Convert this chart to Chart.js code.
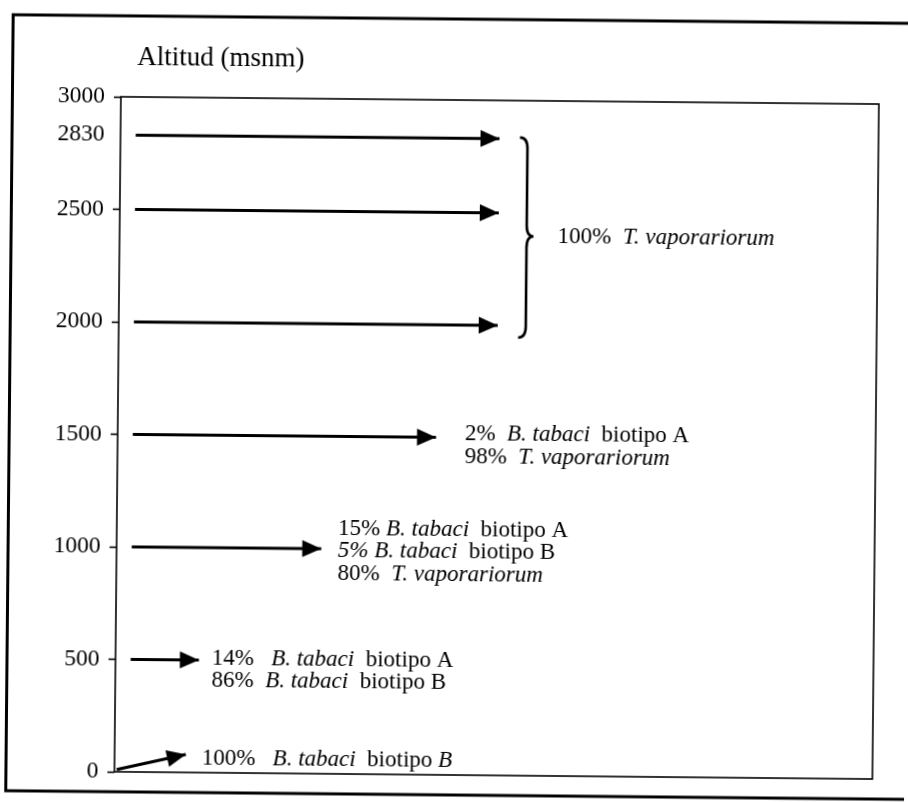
<!DOCTYPE html>
<html lang="es">
<head>
<meta charset="utf-8">
<title>Altitud (msnm)</title>
<script src="https://cdn.jsdelivr.net/npm/chart.js@4.4.1/dist/chart.umd.min.js"></script>
<style>
  html, body { margin: 0; padding: 0; background: #fff; overflow: hidden; }
  /* 原图是扫描件，略微顺时针倾斜 */
  #wrap { width: 908px; height: 802px; transform: rotate(0.55deg); }
</style>
</head>
<body>
<div id="wrap"><canvas id="chart" width="908" height="802"></canvas></div>
<script>
// y轴刻度（海拔，msnm）
const yTicks = [0, 500, 1000, 1500, 2000, 2500, 2830, 3000];

// 水平箭头：所在海拔、起点和终点（x轴为 0–100 的相对单位）
const arrowAltitudes = [2830, 2500, 2000, 1500, 1000, 500];
const arrowStartX = 2;
const arrowEndX = [50, 50, 50, 42, 27, 11];

// 0 msnm 处的斜箭头
const slantArrowX = [0.3, 9.4];
const slantArrowY = [10, 80];

// 大括号：上端、中点、下端海拔
const braceAltitudes = [2836, 2397, 1947];

// 每组文字的内容，[文字, 是否斜体]
const labelGroups = [
  [
    [["100%  ", false], ["T. vaporariorum", true]],
  ],
  [
    [["2%  ", false], ["B. tabaci", true], ["  biotipo A", false]],
    [["98%  ", false], ["T. vaporariorum", true]],
  ],
  [
    [["15% ", false], ["B. tabaci", true], ["  biotipo A", false]],
    [["5% B. tabaci", true], ["  biotipo B", false]],
    [["80%  ", false], ["T. vaporariorum", true]],
  ],
  [
    [["14%   ", false], ["B. tabaci", true], ["  biotipo A", false]],
    [["86%  ", false], ["B. tabaci", true], ["  biotipo B", false]],
  ],
  [
    [["100%   ", false], ["B. tabaci", true], ["  biotipo ", false], ["B", true]],
  ],
];
// 每组文字第一行的位置（x 相对单位，y 海拔）
const labelX = [57.8, 45.8, 29.2, 12.7, 11.5];
const labelY = [2367, 1488, 1064, 481, 36];

const axisTitle = "Altitud (msnm)";

const SERIF = '"Liberation Serif", "Times New Roman", serif';
const INK = "#000";

/**
 * 在画布上画一行混合正体/斜体的文字。
 * @param {CanvasRenderingContext2D} ctx - 画布上下文。
 * @param {number} x - 起点 x（像素）。
 * @param {number} y - 基线 y（像素）。
 * @param {Array} segments - [文字, 是否斜体] 的数组。
 */
function drawRichLine(ctx, x, y, segments) {
  let cx = x;
  segments.forEach(([text, italic]) => {
    ctx.font = (italic ? "italic " : "") + "23px " + SERIF;
    ctx.fillText(text, cx, y);
    cx += ctx.measureText(text).width;
  });
}

// 箭头头部
const arrowHeads = {
  id: "arrowHeads",
  afterDatasetsDraw(chart) {
    const ctx = chart.ctx;
    ctx.save();
    ctx.fillStyle = INK;
    chart.data.datasets.forEach((ds, i) => {
      const meta = chart.getDatasetMeta(i);
      const a = meta.data[0];
      const b = meta.data[meta.data.length - 1];
      const ang = Math.atan2(b.y - a.y, b.x - a.x);
      const len = 19;
      const half = 8.5;
      const bx = b.x - len * Math.cos(ang);
      const by = b.y - len * Math.sin(ang);
      ctx.beginPath();
      ctx.moveTo(b.x, b.y);
      ctx.lineTo(bx + half * Math.sin(ang), by - half * Math.cos(ang));
      ctx.lineTo(bx - half * Math.sin(ang), by + half * Math.cos(ang));
      ctx.closePath();
      ctx.fill();
    });
    ctx.restore();
  },
};

// 图框、大括号和文字
const decorations = {
  id: "decorations",
  afterDraw(chart) {
    const ctx = chart.ctx;
    const xs = chart.scales.x;
    const ys = chart.scales.y;
    const area = chart.chartArea;
    ctx.save();

    // 外框（右侧在画面外）
    ctx.strokeStyle = INK;
    ctx.lineWidth = 3;
    ctx.beginPath();
    ctx.moveTo(930, 19);
    ctx.lineTo(9.5, 19);
    ctx.lineTo(9.5, 795);
    ctx.lineTo(930, 795);
    ctx.stroke();

    // 绘图区的方框
    ctx.lineWidth = 1.6;
    ctx.strokeRect(area.left, area.top, area.right - area.left, area.bottom - area.top);

    // 大括号
    const yt = ys.getPixelForValue(braceAltitudes[0]);
    const ym = ys.getPixelForValue(braceAltitudes[1]);
    const yb = ys.getPixelForValue(braceAltitudes[2]);
    const xh = xs.getPixelForValue(52.7);
    const xm = xs.getPixelForValue(53.7);
    const xt = xs.getPixelForValue(54.6);
    const r = 11;
    ctx.lineWidth = 2.6;
    ctx.beginPath();
    ctx.moveTo(xh, yt);
    ctx.quadraticCurveTo(xm, yt, xm, yt + r);
    ctx.lineTo(xm, ym - r);
    ctx.quadraticCurveTo(xm, ym, xt, ym);
    ctx.quadraticCurveTo(xm, ym, xm, ym + r);
    ctx.lineTo(xm, yb - r);
    ctx.quadraticCurveTo(xm, yb, xh, yb);
    ctx.stroke();

    // 文字
    ctx.fillStyle = INK;
    ctx.textAlign = "left";
    ctx.textBaseline = "alphabetic";
    labelGroups.forEach((lines, g) => {
      const x = xs.getPixelForValue(labelX[g]);
      const y0 = ys.getPixelForValue(labelY[g]);
      lines.forEach((segs, k) => drawRichLine(ctx, x, y0 + k * 22.6, segs));
    });

    // y轴标题
    ctx.font = "27px " + SERIF;
    ctx.fillText(axisTitle, 134, 68);
    ctx.restore();
  },
};

// 组装数据集：每个箭头是一条两点的线
const datasets = arrowAltitudes.map((alt, i) => ({
  data: [{ x: arrowStartX, y: alt }, { x: arrowEndX[i], y: alt }],
}));
datasets.push({
  data: [{ x: slantArrowX[0], y: slantArrowY[0] }, { x: slantArrowX[1], y: slantArrowY[1] }],
});

const ctx = document.getElementById("chart").getContext("2d");
new Chart(ctx, {
  type: "line",
  data: {
    datasets: datasets.map((d) => ({
      ...d,
      borderColor: INK,
      borderWidth: 3,
      borderCapStyle: "butt",
      pointRadius: 0,
      tension: 0,
      fill: false,
      clip: false,
    })),
  },
  options: {
    responsive: false,
    animation: false,
    layout: { padding: { top: 100, right: 32, bottom: 27, left: 0 } },
    plugins: {
      legend: { display: false },
      tooltip: { enabled: false },
    },
    scales: {
      x: { type: "linear", min: 0, max: 100, display: false },
      y: {
        type: "linear",
        min: 0,
        max: 3000,
        afterBuildTicks: (axis) => {
          axis.ticks = yTicks.map((v) => ({ value: v }));
        },
        afterFit: (axis) => {
          axis.width = 118;
        },
        border: { display: false },
        grid: {
          drawOnChartArea: false,
          drawTicks: true,
          tickLength: 7,
          tickWidth: 1.6,
          tickColor: (c) => (c.tick && c.tick.value === 2830 ? "rgba(0,0,0,0)" : INK),
        },
        ticks: {
          color: INK,
          padding: 9,
          autoSkip: false,
          font: { family: SERIF, size: 23.5 },
          callback: (v) => String(v),
        },
      },
    },
  },
  plugins: [arrowHeads, decorations],
});
</script>
</body>
</html>
